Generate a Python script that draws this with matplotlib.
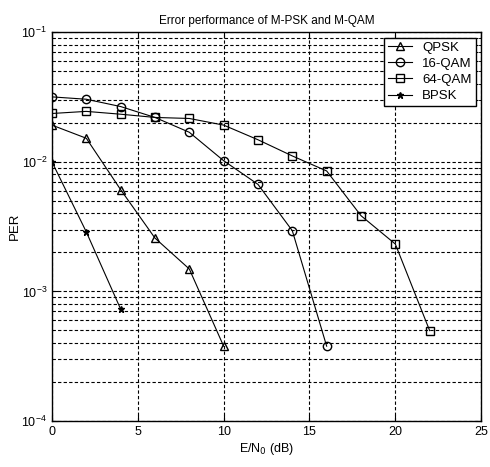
import numpy as np
import matplotlib.pyplot as plt

plt.rcParams['font.family'] = ['Liberation Sans', 'DejaVu Sans']

# E/N0 (dB) and packet error rates
snr_qpsk = [0, 2, 4, 6, 8, 10]
per_qpsk = [0.0192, 0.0152, 0.0061, 0.00258, 0.00149, 0.000378]

snr_16qam = [0, 2, 4, 6, 8, 10, 12, 14, 16]
per_16qam = [0.0317, 0.0304, 0.0267, 0.0220, 0.0169, 0.0102, 0.0067, 0.00294, 0.000378]

snr_64qam = [0, 2, 4, 6, 8, 10, 12, 14, 16, 18, 20, 22]
per_64qam = [0.0236, 0.0245, 0.0233, 0.0220, 0.0216, 0.0192, 0.0148, 0.0111, 0.0085, 0.00384, 0.00232, 0.000498]

snr_bpsk = [0, 2, 4]
per_bpsk = [0.0100, 0.00288, 0.000731]

fig = plt.figure(figsize=(4.9, 4.67), dpi=100)
ax = fig.add_axes([0.106, 0.0985, 0.876, 0.8325])

ax.semilogy(snr_qpsk, per_qpsk, color='black', marker='^', markersize=6,
            markerfacecolor='none', linewidth=0.8, label='QPSK')
ax.semilogy(snr_16qam, per_16qam, color='black', marker='o', markersize=6,
            markerfacecolor='none', linewidth=0.8, label='16-QAM')
ax.semilogy(snr_64qam, per_64qam, color='black', marker='s', markersize=6,
            markerfacecolor='none', linewidth=0.8, label='64-QAM')
ax.semilogy(snr_bpsk, per_bpsk, color='black', marker='*', markersize=4.5,
            linewidth=0.8, label='BPSK')

ax.set_xlim(0, 25)
ax.set_ylim(1e-4, 1e-1)
ax.set_xticks([0, 5, 10, 15, 20, 25])

# matlab-style dashed grid, including minor y lines
ax.grid(True, which='major', axis='both', color='black', linestyle=(0, (3, 2)), linewidth=0.8)
ax.grid(True, which='minor', axis='y', color='black', linestyle=(0, (3, 2)), linewidth=0.8)

ax.tick_params(which='both', direction='in', top=True, right=True, labelsize=9)
ax.tick_params(which='major', length=4)
ax.tick_params(which='minor', length=2)
for s in ax.spines.values():
    s.set_linewidth(1.0)

ax.set_title('Error performance of M-PSK and M-QAM', fontsize=8.5, pad=6)
ax.set_xlabel('E/N$_0$ (dB)', fontsize=9, labelpad=2)
ax.set_ylabel('PER', fontsize=9.5)
ax.yaxis.set_label_coords(-0.072, 0.5)

leg = ax.legend(loc='upper right', fontsize=9.5, frameon=True, fancybox=False,
                framealpha=1, edgecolor='black', handlelength=1.8,
                borderaxespad=0.4, labelspacing=0.3, borderpad=0.3)
leg.get_frame().set_linewidth(1.0)

fig.savefig('out.png', dpi=100)
